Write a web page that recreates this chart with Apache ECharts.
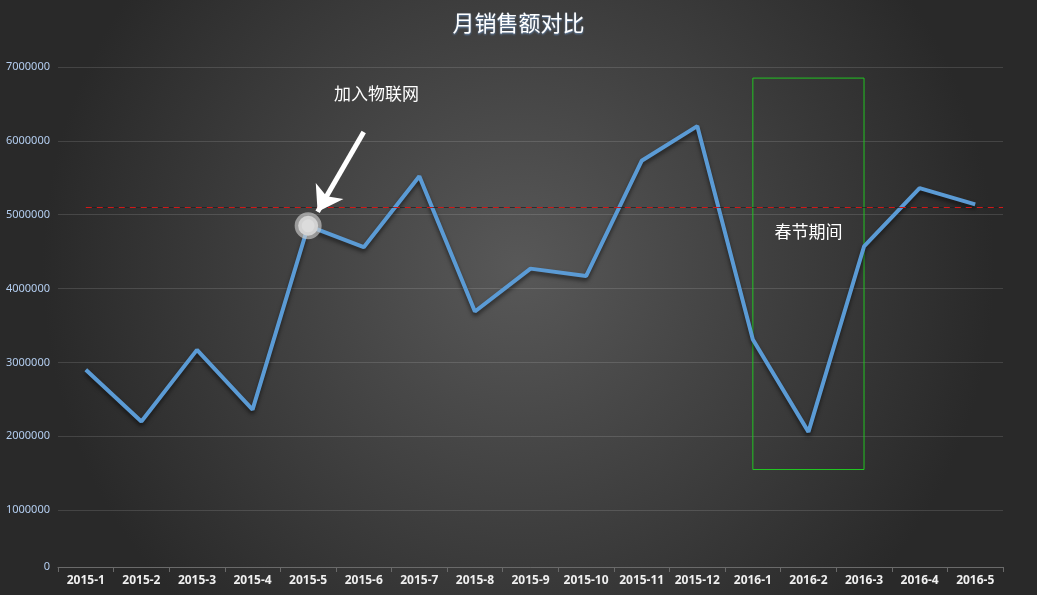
<!DOCTYPE html>
<html>
<head>
<meta charset="utf-8">
<script src="https://cdn.jsdelivr.net/npm/echarts@6/dist/echarts.min.js"></script>
<style>
  html, body { margin: 0; padding: 0; background: #333; }
  #main { width: 1037px; height: 595px; }
</style>
</head>
<body>
<div id="main"></div>
<script>
// ── Data ────────────────────────────────────────────────────────────────
const months = ['2015-1', '2015-2', '2015-3', '2015-4', '2015-5', '2015-6', '2015-7', '2015-8', '2015-9',
  '2015-10', '2015-11', '2015-12', '2016-1', '2016-2', '2016-3', '2016-4', '2016-5'];
const sales = [2900000, 2200000, 3170000, 2360000, 4850000, 4560000, 5520000, 3690000, 4270000,
  4170000, 5730000, 6200000, 3310000, 2060000, 4570000, 5360000, 5140000];
const yTicks = [230000, 1000000, 2000000, 3000000, 4000000, 5000000, 6000000, 7000000];
const refLine = 5100000;            // dashed reference level
const highlightMonth = '2015-5';    // joined IoT
const holidayFrom = '2016-1';
const holidayTo = '2016-3';
const holidayTop = 6850000;
const holidayBottom = 1550000;
// annotation anchors, in [month index, value]
const arrowFrom = [5.0, 6120000];
const arrowTo = [4.17, 5040000];
const iotNote = [5.23, 6635000];
const holidayNote = [13, 4770000];

// ── Chart ───────────────────────────────────────────────────────────────
const chart = echarts.init(document.getElementById('main'));

const seriesData = sales.map((v, i) => months[i] === highlightMonth
  ? {
      value: v, symbol: 'circle', symbolSize: 20,
      itemStyle: { color: '#dcdcdc', borderColor: 'rgba(205,205,205,0.65)', borderWidth: 7, shadowBlur: 0 }
    }
  : { value: v, symbol: 'none' });

const labelText = { color: '#ffffff', fontSize: 17, fontFamily: 'Noto Sans CJK SC' };
const last = months.length - 1;

chart.setOption({
  backgroundColor: {
    type: 'radial', x: 0.5, y: 0.45, r: 0.8,
    colorStops: [{ offset: 0, color: '#585858' }, { offset: 1, color: '#292929' }]
  },
  title: {
    text: '月销售额对比', left: 'center', top: 7,
    textStyle: {
      color: '#ffffff', fontSize: 22, fontWeight: 'normal', fontFamily: 'Noto Sans CJK SC',
      textShadowColor: 'rgba(120,170,230,0.75)', textShadowBlur: 2, textShadowOffsetY: 1
    }
  },
  grid: { left: 58, right: 34, top: 67, bottom: 28, containLabel: false },
  xAxis: [{
    type: 'category', data: months, boundaryGap: true,
    axisLine: { lineStyle: { color: '#6a6a6a' } },
    axisTick: { show: true, interval: 0, length: 5, lineStyle: { color: '#6a6a6a' } },
    axisLabel: { interval: 0, color: '#f0f0f0', fontSize: 12, fontWeight: 'bold', fontFamily: 'Noto Sans', margin: 8 }
  }, {
    // hidden index axis lined up with the month bands, used for annotations between months
    type: 'value', min: -0.5, max: last + 0.5, show: false, splitLine: { show: false }
  }],
  yAxis: {
    type: 'value', min: 230000, max: 7000000,
    axisLine: { show: false },
    axisTick: { show: false, customValues: yTicks },
    axisLabel: {
      customValues: yTicks, color: '#b4cef0', fontSize: 11, fontFamily: 'Noto Sans', margin: 8,
      formatter: v => (v < 1000000 ? '0' : String(v))
    },
    splitLine: { lineStyle: { color: 'rgba(255,255,255,0.13)' } }
  },
  series: [{
    type: 'line', data: seriesData, smooth: false,
    lineStyle: { color: '#5b9bd5', width: 4, shadowColor: 'rgba(0,0,0,0.55)', shadowBlur: 4, shadowOffsetY: 3 },
    itemStyle: { color: '#5b9bd5' },
    z: 3,
    markArea: {
      silent: true,
      itemStyle: { color: 'rgba(0,0,0,0)', borderColor: '#22c422', borderWidth: 1 },
      data: [[{ xAxis: holidayFrom, yAxis: holidayTop }, { xAxis: holidayTo, yAxis: holidayBottom }]]
    }
  }, {
    type: 'line', xAxisIndex: 1, data: [], silent: true, z: 4,
    markLine: {
      silent: true, symbol: 'none', symbolSize: [0, 24], animation: false, label: { show: false },
      itemStyle: { color: '#ffffff' },
      data: [
        [{ coord: [0, refLine], lineStyle: { color: 'rgba(30,30,30,0.7)', type: 'solid', width: 1 } },
         { coord: [last + 0.5, refLine] }],
        [{ coord: [0, refLine], lineStyle: { color: '#d01818', type: [6, 5], width: 1 } },
         { coord: [last + 0.5, refLine] }],
        [{ coord: arrowFrom, symbol: 'none', lineStyle: { color: '#ffffff', type: 'solid', width: 5 } },
         { coord: arrowTo, symbol: 'arrow', symbolSize: 24 }]
      ]
    },
    markPoint: {
      silent: true, symbol: 'circle', symbolSize: 0, animation: false,
      data: [
        { coord: iotNote, label: Object.assign({ show: true, formatter: '加入物联网', position: 'inside' }, labelText) },
        { coord: holidayNote, label: Object.assign({ show: true, formatter: '春节期间', position: 'inside' }, labelText) }
      ]
    }
  }]
});
</script>
</body>
</html>
